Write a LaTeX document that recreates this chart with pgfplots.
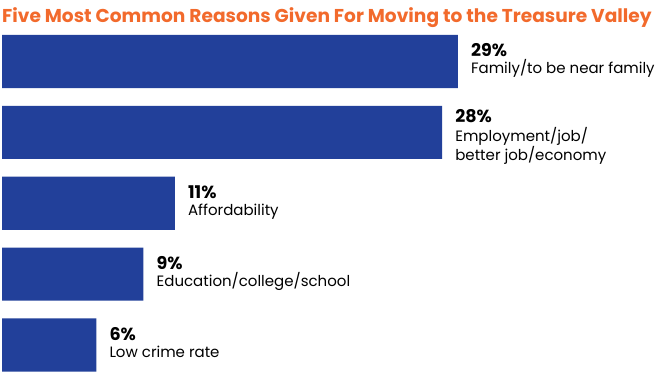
\documentclass[border=0pt]{standalone}
\usepackage{pgfplots}
\pgfplotsset{compat=1.18}
\usepackage{fontspec}
\setmainfont{Poppins}
\definecolor{barblue}{HTML}{22409A}
\definecolor{titleorange}{HTML}{F26A2C}
\tikzset{
  pct/.style={anchor=base west, inner sep=0pt, font=\fontsize{17.5}{18}\selectfont\bfseries, xshift=13pt},
  desc/.style={anchor=base west, inner sep=0pt, font=\fontsize{15}{18.5}\selectfont, xshift=13pt},
}
\begin{document}
\begin{tikzpicture}[x=1pt,y=1pt]
\useasboundingbox (0,0) rectangle (660,376);
\node[anchor=base west, inner sep=0pt, text=titleorange, font=\fontsize{18.6}{20}\selectfont\bfseries] at (2,353.5) {Five Most Common Reasons Given For Moving to the Treasure Valley};
\begin{axis}[
  at={(2pt,0pt)}, anchor=south west,
  scale only axis, width=658pt, height=350pt,
  xmin=0, xmax=41.86, ymin=0.563, ymax=5.5,
  hide axis, clip=false,
  xbar, bar width=0.75,
]
\addplot[fill=barblue, draw=none] coordinates {(29,5) (28,4) (11,3) (9,2) (6,1)};
\node[pct, yshift=4.5pt] at (axis cs:29,5) {29\%};
\node[desc, yshift=-12pt] at (axis cs:29,5) {Family/to be near family};
\node[pct, yshift=9.5pt] at (axis cs:28,4) {28\%};
\node[desc, yshift=-9pt] at (axis cs:28,4) {Employment/job/};
\node[desc, yshift=-28.5pt] at (axis cs:28,4) {better job/economy};
\node[pct, yshift=4.5pt] at (axis cs:11,3) {11\%};
\node[desc, yshift=-12.5pt] at (axis cs:11,3) {Affordability};
\node[pct, yshift=4.5pt] at (axis cs:9,2) {9\%};
\node[desc, yshift=-12.5pt] at (axis cs:9,2) {Education/college/school};
\node[pct, yshift=4.5pt] at (axis cs:6,1) {6\%};
\node[desc, yshift=-12.5pt] at (axis cs:6,1) {Low crime rate};
\end{axis}
\end{tikzpicture}
\end{document}
